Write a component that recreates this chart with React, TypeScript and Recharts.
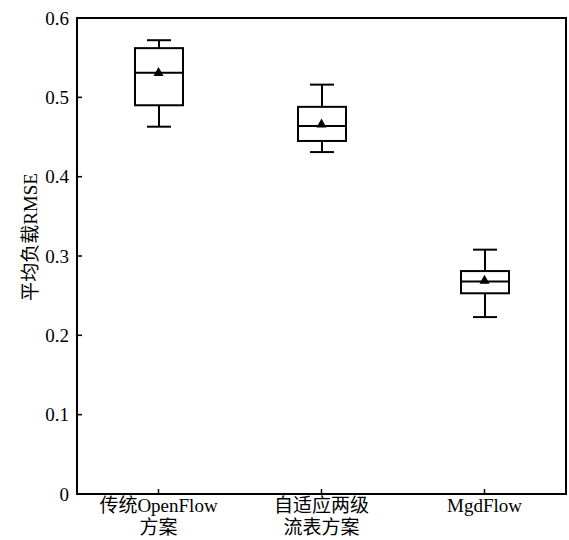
import { ComposedChart, Bar, Scatter, XAxis, YAxis, ReferenceArea, Label } from 'recharts';

const categories = ['传统OpenFlow方案', '自适应两级流表方案', 'MgdFlow'];
const tickLines = [['传统OpenFlow', '方案'], ['自适应两级', '流表方案'], ['MgdFlow']];
const whiskerMin = [0.463, 0.431, 0.223];
const q1 = [0.49, 0.445, 0.253];
const median = [0.531, 0.464, 0.268];
const q3 = [0.562, 0.488, 0.281];
const whiskerMax = [0.572, 0.516, 0.308];
const mean = [0.532, 0.467, 0.27];
const yTicks = [0, 0.1, 0.2, 0.3, 0.4, 0.5, 0.6];

const data = categories.map((name, i) => ({
  name,
  lines: tickLines[i],
  range: [whiskerMin[i], whiskerMax[i]],
  min: whiskerMin[i],
  q1: q1[i],
  median: median[i],
  q3: q3[i],
  max: whiskerMax[i],
  mean: mean[i],
}));

const FONT = '"Liberation Serif", "Times New Roman", "Noto Sans CJK SC", serif';
const TEXT = { fontSize: 19, fill: '#000', fontFamily: FONT };

function BoxShape(props: any) {
  const { x, y, width, height, payload } = props;
  const top = Math.min(y, y + height);
  const h = Math.abs(height);
  const span = payload.max - payload.min;
  const py = (v: number) => top + ((payload.max - v) / span) * h;
  const cx = x + width / 2;
  const cap = width / 4;
  return (
    <g stroke="#000" strokeWidth={2} fill="none">
      <line x1={cx} x2={cx} y1={py(payload.max)} y2={py(payload.q3)} />
      <line x1={cx} x2={cx} y1={py(payload.q1)} y2={py(payload.min)} />
      <line x1={cx - cap} x2={cx + cap} y1={py(payload.max)} y2={py(payload.max)} />
      <line x1={cx - cap} x2={cx + cap} y1={py(payload.min)} y2={py(payload.min)} />
      <rect x={x} y={py(payload.q3)} width={width} height={py(payload.q1) - py(payload.q3)} />
      <line x1={x} x2={x + width} y1={py(payload.median)} y2={py(payload.median)} />
    </g>
  );
}

function MeanMark(props: any) {
  const { cx, cy } = props;
  return <polygon points={`${cx},${cy - 5} ${cx - 5},${cy + 4} ${cx + 5},${cy + 4}`} fill="#000" />;
}

function XTick(props: any) {
  const { x, y, index } = props;
  const lines = tickLines[index] || [];
  return (
    <text x={x} y={y} textAnchor="middle" {...TEXT}>
      {lines.map((l, i) => (
        <tspan key={i} x={x} dy={i === 0 ? 16 : 22}>
          {l}
        </tspan>
      ))}
    </text>
  );
}

export default function App() {
  return (
    <div style={{ position: 'absolute', left: 0, top: 0 }}>
      <ComposedChart width={569} height={540} data={data} margin={{ top: 18, right: 3, bottom: 0, left: 0 }}>
        <XAxis
          dataKey="name"
          height={46}
          tick={<XTick />}
          tickSize={-5}
          tickMargin={7}
          tickLine={{ stroke: '#000', strokeWidth: 1.5 }}
          axisLine={{ stroke: '#000', strokeWidth: 2 }}
          interval={0}
        />
        <YAxis
          width={77}
          domain={[0, 0.6]}
          ticks={yTicks}
          tickFormatter={(v: number) => String(v)}
          tickSize={-5}
          tickMargin={13}
          tick={TEXT}
          tickLine={{ stroke: '#000', strokeWidth: 1.5 }}
          axisLine={{ stroke: '#000', strokeWidth: 2 }}
        >
          <Label
            content={(p: any) => {
              const vb = p.viewBox || {};
              const cy = vb.y + vb.height / 2 - 19;
              return (
                <text x={30} y={cy} textAnchor="middle" dominantBaseline="central" transform={`rotate(-90, 30, ${cy})`} {...TEXT}>
                  平均负载RMSE
                </text>
              );
            }}
          />
        </YAxis>
        <ReferenceArea y1={0} y2={0.6} stroke="#000" strokeWidth={2} fill="none" fillOpacity={0} ifOverflow="visible" />
        <Bar dataKey="range" barSize={48} shape={<BoxShape />} isAnimationActive={false} />
        <Scatter dataKey="mean" shape={<MeanMark />} isAnimationActive={false} />
      </ComposedChart>
    </div>
  );
}
